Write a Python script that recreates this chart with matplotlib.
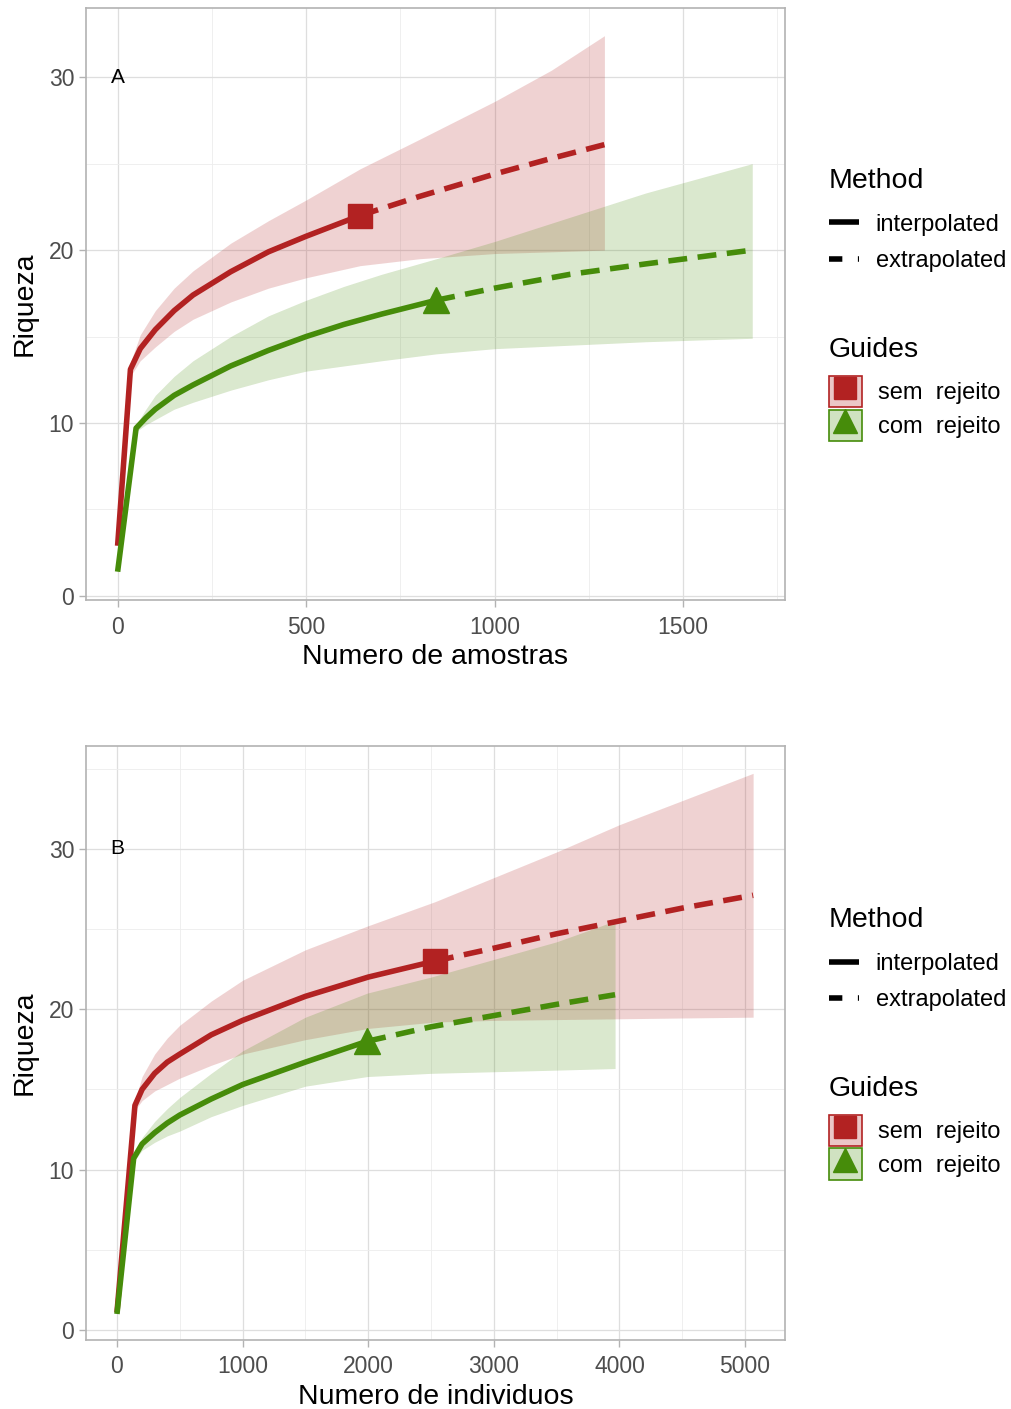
import matplotlib.pyplot as plt
from matplotlib.lines import Line2D
from matplotlib.patches import Patch
from matplotlib.legend_handler import HandlerTuple
from matplotlib.ticker import MultipleLocator

plt.rcParams['font.family'] = ['Liberation Sans', 'DejaVu Sans']

# ---- panel A: sample-based curves ----
a_sem_x = [0, 34, 60, 100, 150, 200, 300, 400, 500, 643]
a_sem_y = [2.9, 13.1, 14.3, 15.4, 16.5, 17.4, 18.75, 19.9, 20.8, 22.0]
a_sem_ex_x = [643, 800, 1000, 1150, 1291]
a_sem_ex_y = [22.0, 23.1, 24.4, 25.3, 26.1]
a_sem_band_x = [0, 34, 60, 100, 150, 200, 300, 400, 500, 643, 800, 1000, 1150, 1291]
a_sem_lo = [2.9, 12.7, 13.6, 14.4, 15.3, 16.0, 17.0, 17.8, 18.4, 19.1, 19.5, 19.8, 19.9, 20.0]
a_sem_hi = [2.9, 13.5, 15.1, 16.5, 17.8, 18.8, 20.4, 21.7, 22.9, 24.7, 26.4, 28.6, 30.4, 32.4]

a_com_x = [0, 49, 75, 100, 150, 200, 300, 400, 500, 600, 700, 845]
a_com_y = [1.4, 9.7, 10.3, 10.8, 11.6, 12.2, 13.3, 14.2, 15.0, 15.7, 16.3, 17.1]
a_com_ex_x = [845, 1000, 1200, 1400, 1683]
a_com_ex_y = [17.1, 17.8, 18.6, 19.2, 20.0]
a_com_band_x = [0, 49, 75, 100, 150, 200, 300, 400, 500, 600, 700, 845, 1000, 1200, 1400, 1683]
a_com_lo = [1.4, 9.5, 9.9, 10.2, 10.8, 11.2, 11.9, 12.5, 13.0, 13.3, 13.6, 14.0, 14.3, 14.5, 14.7, 14.9]
a_com_hi = [1.4, 9.9, 10.8, 11.6, 12.7, 13.6, 15.0, 16.2, 17.1, 17.9, 18.6, 19.5, 20.5, 21.9, 23.3, 25.0]

# ---- panel B: individual-based curves ----
b_sem_x = [0, 143, 200, 300, 400, 500, 750, 1000, 1500, 2000, 2532]
b_sem_y = [1.1, 14.0, 15.0, 16.0, 16.7, 17.2, 18.4, 19.3, 20.8, 22.0, 23.0]
b_sem_ex_x = [2532, 3000, 3500, 4000, 4500, 5064]
b_sem_ex_y = [23.0, 23.8, 24.7, 25.5, 26.3, 27.1]
b_sem_band_x = [0, 143, 200, 300, 400, 500, 750, 1000, 1500, 2000, 2532, 3000, 3500, 4000, 4500, 5064]
b_sem_lo = [1.1, 13.7, 14.3, 14.9, 15.3, 15.7, 16.5, 17.2, 18.1, 18.8, 19.2, 19.3, 19.35, 19.4, 19.45, 19.5]
b_sem_hi = [1.1, 14.3, 15.8, 17.2, 18.2, 19.0, 20.5, 21.8, 23.7, 25.2, 26.7, 28.2, 29.8, 31.5, 33.0, 34.7]

b_com_x = [0, 133, 200, 300, 400, 500, 750, 1000, 1500, 1992]
b_com_y = [1.0, 10.7, 11.6, 12.3, 12.9, 13.4, 14.4, 15.3, 16.7, 18.0]
b_com_ex_x = [1992, 2500, 3000, 3500, 3965]
b_com_ex_y = [18.0, 18.9, 19.6, 20.3, 20.9]
b_com_band_x = [0, 133, 200, 300, 400, 500, 750, 1000, 1500, 1992, 2500, 3000, 3500, 3965]
b_com_lo = [1.0, 10.5, 11.2, 11.7, 12.1, 12.4, 13.3, 14.0, 15.2, 15.8, 16.0, 16.1, 16.2, 16.3]
b_com_hi = [1.0, 10.9, 12.0, 13.0, 13.8, 14.5, 16.0, 17.4, 19.5, 21.0, 22.0, 23.1, 24.2, 25.5]

guides = ['sem  rejeito', 'com  rejeito']
methods = ['interpolated', 'extrapolated']

red = '#B22222'
green = '#468C0A'
grid_c = '#DEDEDE'
lw = 4.0
dash = (3.4, 1.9)


def draw_curve(ax, x, y, ex_x, ex_y, bx, lo, hi, col, mk, ms):
    ax.fill_between(bx, lo, hi, color=col, alpha=0.2, lw=0, zorder=2)
    ax.plot(x, y, color=col, lw=lw, solid_capstyle='butt', solid_joinstyle='round', zorder=3)
    ax.plot(ex_x, ex_y, color=col, lw=lw, dashes=dash, dash_capstyle='butt', zorder=3)
    ax.plot([x[-1]], [y[-1]], marker=mk, ms=ms, color=col, mec=col, zorder=4, ls='none')


def style(ax, xmaj, xmin, xlim, ylim, xlabel, tag):
    ax.set_xlim(*xlim)
    ax.set_ylim(*ylim)
    ax.xaxis.set_major_locator(MultipleLocator(xmaj))
    ax.xaxis.set_minor_locator(MultipleLocator(xmin))
    ax.yaxis.set_major_locator(MultipleLocator(10))
    ax.yaxis.set_minor_locator(MultipleLocator(5))
    ax.grid(which='major', color=grid_c, lw=0.9, zorder=0)
    ax.grid(which='minor', color='#EDEDED', lw=0.6, zorder=0)
    ax.set_axisbelow(True)
    for s in ax.spines.values():
        s.set_color('#B3B3B3')
        s.set_linewidth(1.2)
    ax.tick_params(which='major', colors='#B3B3B3', labelcolor='#4D4D4D',
                   labelsize=16.5, length=5, width=1)
    ax.tick_params(axis='x', which='major', pad=6)
    ax.tick_params(which='minor', length=0)
    ax.set_xlabel(xlabel, fontsize=20.5, labelpad=4)
    ax.set_ylabel('Riqueza', fontsize=20.5, labelpad=8)
    ax.text(0, 30, tag, fontsize=15, ha='center', va='center')


def legends(ax, y_mt, y_m, y_gt, y_g):
    lx = 0.8195
    fig.text(lx, y_mt, 'Method', fontsize=20.5, va='center', ha='left')
    mh = [Line2D([], [], color='black', lw=4, solid_capstyle='butt'),
          Line2D([], [], color='black', lw=4, dashes=(2.4, 2.8), dash_capstyle='butt')]
    l1 = ax.legend(mh, methods, loc='upper left',
                   bbox_to_anchor=(lx, y_m), bbox_transform=fig.transFigure,
                   frameon=False, fontsize=17, handlelength=1.3,
                   handletextpad=0.7, labelspacing=0.6, borderpad=0, borderaxespad=0)
    ax.add_artist(l1)
    fig.text(lx, y_gt, 'Guides', fontsize=20.5, va='center', ha='left')
    gh = [(Patch(facecolor=(0.70, 0.13, 0.13, 0.25), edgecolor=red, lw=1.2),
           Line2D([], [], marker='s', ms=16, color=red, ls='none')),
          (Patch(facecolor=(0.27, 0.55, 0.04, 0.25), edgecolor=green, lw=1.2),
           Line2D([], [], marker='^', ms=17, color=green, ls='none'))]
    ax.legend(gh, guides, loc='upper left',
              bbox_to_anchor=(lx, y_g), bbox_transform=fig.transFigure,
              frameon=False, fontsize=17, handlelength=1.4,
              handleheight=1.65, handletextpad=0.7, labelspacing=0.1,
              borderpad=0, borderaxespad=0,
              handler_map={tuple: HandlerTuple(ndivide=1, pad=0)})


fig = plt.figure(figsize=(10.11, 14.09), dpi=100)
ax1 = fig.add_axes([0.085, 0.574, 0.6915, 0.4203])
ax2 = fig.add_axes([0.085, 0.049, 0.6915, 0.4215])

draw_curve(ax1, a_sem_x, a_sem_y, a_sem_ex_x, a_sem_ex_y, a_sem_band_x, a_sem_lo, a_sem_hi, red, 's', 17)
draw_curve(ax1, a_com_x, a_com_y, a_com_ex_x, a_com_ex_y, a_com_band_x, a_com_lo, a_com_hi, green, '^', 19)
style(ax1, 500, 250, (-84, 1770), (-0.25, 34.0), 'Numero de amostras', 'A')
legends(ax1, 0.8717, 0.8483, 0.7517, 0.7331)

draw_curve(ax2, b_sem_x, b_sem_y, b_sem_ex_x, b_sem_ex_y, b_sem_band_x, b_sem_lo, b_sem_hi, red, 's', 17)
draw_curve(ax2, b_com_x, b_com_y, b_com_ex_x, b_com_ex_y, b_com_band_x, b_com_lo, b_com_hi, green, '^', 19)
style(ax2, 1000, 500, (-247, 5318), (-0.62, 36.4), 'Numero de individuos', 'B')
legends(ax2, 0.3472, 0.3236, 0.2272, 0.2087)

fig.savefig('out.png', dpi=100)
